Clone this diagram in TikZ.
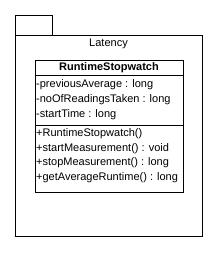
\documentclass[tikz,border=0pt]{standalone}
\usepackage{fontspec}
\setmainfont{Liberation Sans}
\begin{document}
\begin{tikzpicture}[x=1pt,y=-1pt,
  box/.style={draw=black, line width=1pt, inner sep=0pt, anchor=north west},
  txt/.style={anchor=west, inner sep=0pt, font=\fontsize{11}{12}\selectfont},
  ttl/.style={inner sep=0pt, font=\fontsize{11}{12}\selectfont}]
\useasboundingbox (0,0) rectangle (224,259);
\node[box, minimum width=37pt, minimum height=20pt] (tab) at (15,15) {};
\node[box, minimum width=187pt, minimum height=201pt] (pkg) at (15,35) {};
\node[ttl] (pkgname) at (108.5,44) {Latency};
\node[box, minimum width=148pt, minimum height=132pt] (cls) at (35,60) {};
\node[ttl, font=\fontsize{11}{12}\selectfont\bfseries] (clsname) at (109,68) {RuntimeStopwatch};
\draw[line width=1pt] (35,76) coordinate (d1a) -- (183,76) coordinate (d1b);
\draw[line width=1pt] (35,125) coordinate (d2a) -- (183,125) coordinate (d2b);
\node[txt] (a1) at (36,84.5) {-previousAverage : long};
\node[txt] (a2) at (36,99.5) {-noOfReadingsTaken : long};
\node[txt] (a3) at (36,114.5) {-startTime : long};
\node[txt] (m1) at (36,134) {+RuntimeStopwatch()};
\node[txt] (m2) at (36,148.5) {+startMeasurement() : void};
\node[txt] (m3) at (36,163) {+stopMeasurement() : long};
\node[txt] (m4) at (36,177.5) {+getAverageRuntime() : long};
\end{tikzpicture}
\end{document}
